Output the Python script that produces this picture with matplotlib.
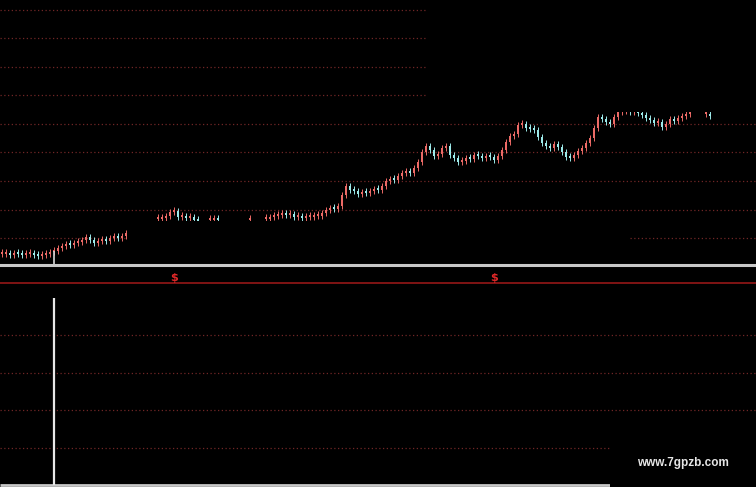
import numpy as np
import matplotlib
matplotlib.use("Agg")
from matplotlib import pyplot as plt
from matplotlib.patches import Rectangle

nan = np.nan

# daily closes (nan = not visible)
closes = [
    9.44, 9.47, 9.40, 9.47, 9.44, 9.40, 9.44, 9.47, 9.40, 9.37,
    9.40, 9.44, 9.51, 9.54, 9.65, 9.72, 9.79, 9.75, 9.82, 9.86,
    9.93, 10.04, 9.93, 9.82, 9.89, 9.96, 9.89, 10.00, 10.04, 10.00,
    10.07, 10.18, nan, nan, nan, nan, nan, nan, nan, 10.67,
    10.70, 10.77, 10.91, 10.95, 10.74, 10.77, 10.70, 10.74, 10.63, 10.60,
    nan, nan, 10.63, 10.67, 10.63, nan, nan, nan, nan, nan,
    nan, nan, 10.63, nan, nan, nan, 10.67, 10.74, 10.77, 10.81,
    10.88, 10.81, 10.84, 10.74, 10.77, 10.70, 10.74, 10.74, 10.77, 10.77,
    10.88, 10.98, 11.05, 11.02, 11.12, 11.51, 11.82, 11.68, 11.65, 11.54,
    11.61, 11.58, 11.65, 11.72, 11.68, 11.82, 12.00, 12.07, 12.04, 12.18,
    12.28, 12.35, 12.28, 12.46, 12.67, 13.02, 13.23, 13.09, 12.88, 12.95,
    13.16, 13.23, 12.91, 12.81, 12.67, 12.70, 12.81, 12.77, 12.91, 12.88,
    12.81, 12.88, 12.84, 12.74, 12.88, 13.09, 13.37, 13.58, 13.65, 13.96,
    14.00, 13.86, 13.82, 13.79, 13.54, 13.33, 13.23, 13.16, 13.30, 13.19,
    13.02, 12.84, 12.81, 12.91, 13.05, 13.16, 13.33, 13.51, 13.86, 14.25,
    14.18, 14.07, 14.00, 14.25, 14.42, 14.46, 14.49, 14.42, 14.46, 14.39,
    14.32, 14.21, 14.14, 14.04, 14.07, 13.89, 14.00, 14.18, 14.11, 14.21,
    14.28, 14.35, 14.39, nan, nan, nan, 14.35, 14.28,
]
spike_idx = [13]
spike_low = [9.05]
signal_idx = [43, 123]
signal_text = "$"
ind_idx = [13]
ind_val = [5.0]
price_grid = [10, 11, 12, 13, 14, 15, 16, 17, 18]
ind_grid = [1, 2, 3, 4]
watermark = "www.7gpzb.com"

up_col = "#ec6a66"
down_col = "#9ceaea"
grid_col = "#702626"
W, H = 756, 487

fig = plt.figure(figsize=(W / 100, H / 100), dpi=100, facecolor="black")

# price panel
ax = fig.add_axes([0, 1 - 265 / H, 1, 265 / H], facecolor="black")
ax.set_xlim(-0.5, W / 4 - 0.5)
ax.set_ylim(9.053, 18.35)
ax.axis("off")
for g in price_grid:
    ax.axhline(g, color=grid_col, lw=0.9, ls=(0, (1, 2)), zorder=1)

c = np.array(closes, float)
x = np.arange(len(c))
prev = np.r_[nan, c[:-1]]
opens = np.where(np.isnan(prev), c, prev)
ok = ~np.isnan(c)
lo = np.minimum(opens, c)[ok]
hgt = np.maximum(np.abs(c - opens)[ok], 0.07)
cols = np.where((c >= opens)[ok], up_col, down_col)
ax.vlines(x[ok], lo - 0.1, lo + hgt + 0.1, color=cols, lw=0.7, zorder=2)
ax.bar(x[ok], hgt, bottom=lo, width=0.65, color=cols, lw=0, zorder=3)
for i, l in zip(spike_idx, spike_low):
    ax.vlines(i, l, c[i], color="#d8d8d8", lw=1.2, zorder=3)

# blank areas in the screenshot
ax.add_patch(Rectangle((106.5, 14.42), 90, 5, facecolor="black", lw=0, zorder=5))
ax.add_patch(Rectangle((31.5, 9.16), 125, 1.42, facecolor="black", lw=0, zorder=5))

# middle strip with signals
axm = fig.add_axes([0, 1 - 283 / H, 1, 18 / H], facecolor="black")
axm.set_xlim(ax.get_xlim())
axm.set_ylim(0, 1)
axm.axis("off")
axm.axhline(1, color="#c8c8c8", lw=2.2, clip_on=False)
axm.axhline(0, color="#8a1616", lw=1.3, clip_on=False)
for i in signal_idx:
    axm.text(i, 0.3, signal_text, color="#e02828", fontsize=8, fontweight="bold",
             ha="center", va="center")

# indicator panel
ax2 = fig.add_axes([0, 0, 1, 204 / H], facecolor="black")
ax2.set_xlim(ax.get_xlim())
ax2.set_ylim(-0.053, 5.387)
ax2.axis("off")
for g in ind_grid:
    ax2.axhline(g, color=grid_col, lw=0.9, ls=(0, (1, 2)), zorder=1)
ax2.hlines(0, -0.5, 152, color="#c8c8c8", lw=2, zorder=2)
ax2.vlines(ind_idx, 0, ind_val, color="#e8e8e8", lw=1.6, zorder=3)
ax2.add_patch(Rectangle((152, -0.2), 40, 1.8, facecolor="black", lw=0, zorder=5))
fig.text(683 / W, 1 - 463 / H, watermark, color="#e6e6e6", fontsize=8.5,
         family="Liberation Sans", fontweight="bold", ha="center", va="center",
         zorder=6)

fig.savefig("out.png", dpi=100, facecolor="black")
